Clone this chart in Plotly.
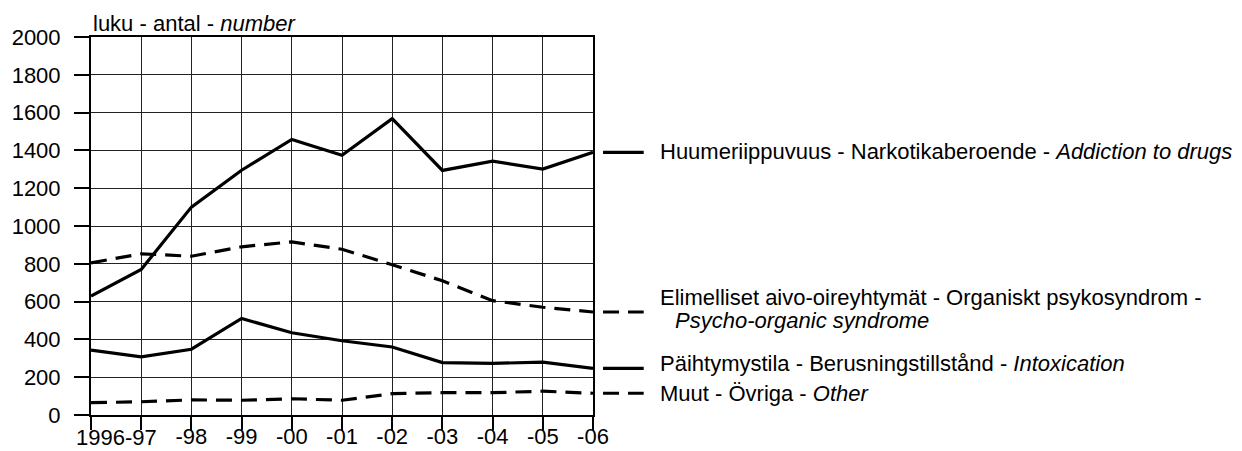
import plotly.graph_objects as go

# ---- data ----
periods = ["1996", "-97", "-98", "-99", "-00", "-01", "-02", "-03", "-04", "-05", "-06"]
tick_labels = ["", "", "-98", "-99", "-00", "-01", "-02", "-03", "-04", "-05", "-06"]
first_label = "1996-97"
y_ticks = [0, 200, 400, 600, 800, 1000, 1200, 1400, 1600, 1800, 2000]

drugs = [629, 770, 1100, 1295, 1458, 1374, 1568, 1294, 1343, 1301, 1390]
organic = [805, 853, 840, 890, 916, 877, 795, 710, 605, 570, 545]
intox = [343, 308, 348, 511, 435, 393, 360, 277, 273, 280, 247]
other = [65, 70, 80, 78, 86, 78, 113, 118, 118, 126, 115]

names = [
    "Huumeriippuvuus - Narkotikaberoende - <i>Addiction to drugs</i>",
    "Elimelliset aivo-oireyhtymät - Organiskt psykosyndrom -",
    "Päihtymystila - Berusningstillstånd - <i>Intoxication</i>",
    "Muut - Övriga - <i>Other</i>",
]
organic_line2 = "<i>Psycho-organic syndrome</i>"
y_title = "luku - antal - <i>number</i>"

FONT = "Liberation Sans, Arial, Helvetica, sans-serif"
YMAX = 2000

x = list(range(len(periods)))
series = [(drugs, "solid"), (organic, "16px,9px"), (intox, "solid"), (other, "16px,9px")]

fig = go.Figure()
for vals, dash in series:
    fig.add_trace(go.Scatter(x=x, y=vals, mode="lines",
                             line=dict(color="black", width=3.2, dash=dash),
                             showlegend=False, hoverinfo="skip"))

# legend-like labels at series ends (paper coords derived from axis range)
shifts = [1, 0, 5, 0]
TX = 1.130
for i, ((vals, dash), name, ys) in enumerate(zip(series, names, shifts)):
    yp = vals[-1] / YMAX
    fig.add_shape(type="line", xref="paper", yref="paper", x0=1.02, x1=1.101,
                  y0=yp, y1=yp, line=dict(color="black", width=3.2, dash=dash))
    if i == 1:
        fig.add_annotation(xref="paper", yref="paper", x=TX, y=yp, text=name,
                           showarrow=False, xanchor="left", yanchor="middle", yshift=14)
        fig.add_annotation(xref="paper", yref="paper", x=TX, y=yp, text=organic_line2,
                           showarrow=False, xanchor="left", yanchor="middle", yshift=-9, xshift=15)
    else:
        fig.add_annotation(xref="paper", yref="paper", x=TX, y=yp, text=name,
                           showarrow=False, xanchor="left", yanchor="middle", yshift=ys)

fig.add_annotation(xref="paper", yref="paper", x=0.0, y=1, text=y_title,
                   showarrow=False, xanchor="left", yanchor="bottom", yshift=-1)
fig.add_annotation(xref="x", yref="paper", x=0.5, y=0, text=first_label,
                   showarrow=False, xanchor="center", yanchor="middle", yshift=-22)

fig.update_layout(
    width=1234, height=443,
    margin=dict(l=83, r=649, t=29, b=36, pad=0),
    paper_bgcolor="white", plot_bgcolor="white",
    font=dict(family=FONT, size=22, color="black"),
    xaxis=dict(range=[0, 10], tickmode="array", tickvals=x, ticktext=tick_labels,
               showgrid=True, gridcolor="#222", gridwidth=1,
               ticks="outside", ticklen=13, tickwidth=2, tickcolor="black",
               showline=True, linecolor="black", linewidth=2, mirror=True,
               zeroline=False, fixedrange=True, automargin=False,
               ticklabelstandoff=-12),
    yaxis=dict(range=[0, YMAX], tickmode="array", tickvals=y_ticks,
               showgrid=True, gridcolor="#222", gridwidth=1,
               ticks="outside", ticklen=15, tickwidth=2, tickcolor="black",
               showline=True, linecolor="black", linewidth=2, mirror=True,
               zeroline=False, ticklabelstandoff=9, fixedrange=True, automargin=False),
)

fig.write_html("out.html")
